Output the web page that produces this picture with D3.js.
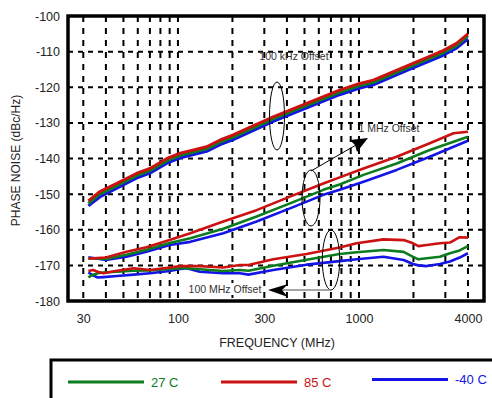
<!DOCTYPE html>
<html><head><meta charset="utf-8">
<script src="https://cdn.jsdelivr.net/npm/d3@7"></script>
<style>
body{margin:0;background:#fff;}
svg text{font-family:"Liberation Sans",Arial,Helvetica,sans-serif;}
</style></head>
<body><svg id="c" width="492" height="398"></svg>
<script>
// ---------- data ----------
const yTicks = [-100,-110,-120,-130,-140,-150,-160,-170,-180];
const xTickLabels = [30,100,300,1000,4000];
const xGrid = [30,40,50,60,70,80,90,100,200,300,400,500,600,700,800,900,1000,2000,3000,4000];
const seriesNames = ["27 C","85 C","-40 C"];
const seriesColors = ["#0b7d1e","#cc1111","#1414e6"];

// 100 kHz offset
const f100k = [32,37,46,59,70,87,103,122,144,171,202,244,336,514,782,1000,1200,1900,2900,3460,4000];
const k100_27 = [-152.6,-150.0,-147.6,-144.8,-143.4,-140.6,-139.1,-138.2,-137.3,-135.4,-134.0,-132.1,-128.9,-125.1,-121.4,-119.6,-118.6,-114.3,-110.4,-108.3,-105.6];
const k100_85 = [-151.9,-149.3,-147.0,-144.2,-142.8,-140.0,-138.5,-137.6,-136.7,-134.8,-133.4,-131.5,-128.3,-124.5,-120.8,-119.0,-118.0,-113.7,-109.8,-107.7,-105.0];
const k100_m40 = [-153.3,-150.8,-148.3,-145.5,-144.1,-141.3,-139.8,-138.9,-138.0,-136.1,-134.7,-132.8,-129.6,-125.8,-122.1,-120.3,-119.3,-115.0,-111.1,-109.0,-106.4];

// 1 MHz offset
const f1m = [32,40,52,67,90,117,178,272,416,636,782,1060,1615,2460,3330,4000];
const m1_27 = [-168.0,-168.2,-167.0,-165.6,-163.7,-162.4,-159.7,-156.3,-152.6,-148.8,-147.3,-144.6,-141.4,-137.6,-135.3,-133.9];
const m1_85 = [-168.1,-167.8,-166.2,-164.9,-162.9,-161.0,-157.7,-154.5,-150.7,-147.0,-145.3,-142.8,-139.5,-135.7,-132.9,-132.5];
const m1_m40 = [-167.7,-168.5,-167.6,-166.2,-164.3,-163.4,-161.0,-157.7,-154.0,-150.2,-148.8,-146.5,-143.2,-139.5,-136.7,-135.0];

// 100 MHz offset
const f100m = [32,34,36,38.7,46,57,70,90,103,112,132,178,220,245,336,514,782,971,1365,1765,1990,2130,2370,2800,3180,3600,4000];
const h100_27 = [-173.4,-172.6,-172.2,-172.0,-171.8,-171.5,-171.4,-171.0,-170.8,-170.8,-171.1,-171.6,-171.3,-171.5,-170.1,-168.4,-166.8,-166.3,-165.7,-166.2,-167.6,-168.3,-168.0,-167.6,-166.6,-165.8,-164.6];
const h100_85 = [-171.6,-171.3,-171.8,-172.2,-171.5,-170.8,-171.3,-170.6,-170.2,-170.2,-170.2,-170.6,-169.9,-169.9,-168.3,-166.8,-165.0,-163.8,-162.7,-162.9,-163.8,-164.6,-164.3,-163.8,-163.6,-162.1,-162.2];
const h100_m40 = [-172.0,-172.8,-173.4,-173.3,-173.0,-172.6,-172.2,-171.6,-171.0,-170.8,-171.8,-172.2,-172.2,-172.6,-171.3,-169.8,-168.8,-168.3,-167.6,-168.5,-169.6,-170.0,-170.2,-169.6,-168.9,-167.8,-166.6];

// ---------- drawing ----------
const svg = d3.select("#c");
const L=68, R=484, T=16, B=301;
const x = d3.scaleLog().domain([24.7,4905]).range([L,R]);
const y = d3.scaleLinear().domain([-180,-100]).range([B,T]);

svg.append("defs").append("clipPath").attr("id","clip")
  .append("rect").attr("x",L).attr("y",T).attr("width",R-L).attr("height",B-T);

// grid
const grid = svg.append("g");
grid.selectAll(".hg").data(yTicks.filter(v=>v>-180 && v<-100)).enter().append("line")
  .attr("x1",L).attr("x2",R).attr("y1",d=>y(d)).attr("y2",d=>y(d))
  .attr("stroke","#000").attr("stroke-width",2).attr("stroke-dasharray","5,5");
grid.selectAll(".vg").data(xGrid).enter().append("line")
  .attr("y1",T).attr("y2",B).attr("x1",d=>x(d)).attr("x2",d=>x(d))
  .attr("stroke","#000").attr("stroke-width",2).attr("stroke-dasharray","6,6");

// axes labels via d3 axes
const yAxis = d3.axisLeft(y).tickValues(yTicks).tickSize(0).tickPadding(8).tickFormat(d=>String(d));
const gy = svg.append("g").attr("transform",`translate(${L},0)`).call(yAxis);
gy.select(".domain").remove();
gy.selectAll("text").attr("font-size",12.5).attr("fill","#222").style("font-family","'Liberation Sans',Arial,sans-serif");

const xAxis = d3.axisBottom(x).tickValues(xTickLabels).tickSize(0).tickPadding(13).tickFormat(d=>String(d));
const gx = svg.append("g").attr("transform",`translate(0,${B})`).call(xAxis);
gx.select(".domain").remove();
gx.selectAll("text").attr("font-size",12.5).attr("fill","#222").style("font-family","'Liberation Sans',Arial,sans-serif");

svg.append("text").attr("transform",`translate(20,${(T+B)/2+2}) rotate(-90)`)
  .attr("text-anchor","middle").attr("font-size",12).attr("fill","#222").text("PHASE NOISE (dBc/Hz)");
svg.append("text").attr("x",277).attr("y",347).attr("text-anchor","middle")
  .attr("font-size",12.5).attr("fill","#222").text("FREQUENCY (MHz)");

// curves
const line = d3.line().x(d=>x(d[0])).y(d=>y(d[1]));
const groups = [
  [f100k,[k100_27,k100_85,k100_m40]],
  [f1m,[m1_27,m1_85,m1_m40]],
  [f100m,[h100_27,h100_85,h100_m40]]
];
const drawOrder = [2,0,1];
const cg = svg.append("g").attr("clip-path","url(#clip)");
groups.forEach(([fs,vals],gi)=>{
  drawOrder.forEach(i=>{
    cg.append("path").datum(fs.map((f,j)=>[f,vals[i][j]]))
      .attr("d",line).attr("fill","none").attr("stroke",seriesColors[i])
      .attr("stroke-width",gi===0?3:2.6).attr("stroke-linejoin","round");
  });
});

// annotations
const ann = svg.append("g");
ann.append("text").attr("x",294).attr("y",60).attr("text-anchor","middle")
  .attr("font-size",10.5).attr("fill","#333").text("100 kHz Offset");
ann.append("ellipse").attr("cx",277).attr("cy",116).attr("rx",7.5).attr("ry",34)
  .attr("fill","none").attr("stroke","#000").attr("stroke-width",1);

ann.append("text").attr("x",389).attr("y",132).attr("text-anchor","middle")
  .attr("font-size",10.5).attr("fill","#333").text("1 MHz Offset");
ann.append("ellipse").attr("cx",311).attr("cy",198).attr("rx",9).attr("ry",28)
  .attr("fill","none").attr("stroke","#000").attr("stroke-width",1);
ann.append("line").attr("x1",311).attr("y1",171).attr("x2",356).attr("y2",145)
  .attr("stroke","#000").attr("stroke-width",1);
ann.append("path").attr("d","M368,138 L350,140 L355,145 L357,152 Z").attr("fill","#000");

ann.append("ellipse").attr("cx",331).attr("cy",260).attr("rx",8.7).attr("ry",30)
  .attr("fill","none").attr("stroke","#000").attr("stroke-width",1);
ann.append("rect").attr("x",187).attr("y",283).attr("width",76).attr("height",12).attr("fill","#fff");
ann.append("text").attr("x",225).attr("y",293).attr("text-anchor","middle")
  .attr("font-size",10.5).attr("fill","#333").text("100 MHz Offset");
ann.append("line").attr("x1",331).attr("y1",290).attr("x2",280).attr("y2",290)
  .attr("stroke","#888").attr("stroke-width",1.5);
ann.append("path").attr("d","M268,290 L288,284 L282,290 L288,297 Z").attr("fill","#000");

// plot frame
svg.append("rect").attr("x",L).attr("y",T).attr("width",R-L).attr("height",B-T)
  .attr("fill","none").attr("stroke","#000").attr("stroke-width",3.5);

// legend
svg.append("path").attr("d","M51,410 L51,360 L500,360").attr("fill","none").attr("stroke","#000").attr("stroke-width",3);
const legX = [68,221,372];
const legY = [382,382,379.5];
const legIdx = [0,1,2];
legIdx.forEach((i,k)=>{
  svg.append("line").attr("x1",legX[k]).attr("x2",legX[k]+76).attr("y1",legY[k]).attr("y2",legY[k])
    .attr("stroke",seriesColors[i]).attr("stroke-width",2.8);
  svg.append("text").attr("x",legX[k]+83).attr("y",legY[k]+4.5).attr("font-size",13)
    .attr("fill",seriesColors[i]).text(seriesNames[i]);
});
</script></body></html>
